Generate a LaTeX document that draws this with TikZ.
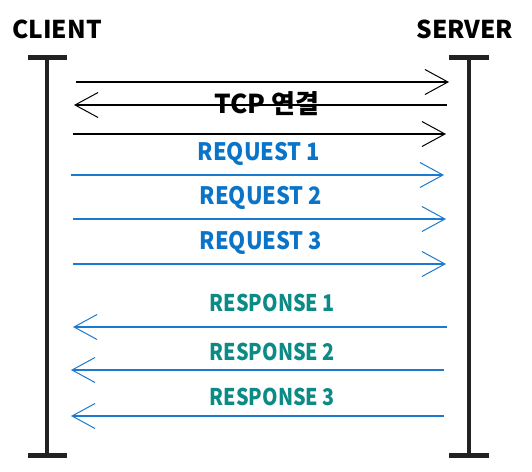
\documentclass[tikz,border=0pt]{standalone}
\usepackage{fontspec}
\newfontfamily\kheavy{Noto Sans CJK KR}[UprightFont=* Black]
\newfontfamily\kcond{Noto Sans CJK KR}[UprightFont=* Black, FakeStretch=0.86]
\newfontfamily\kreq{Noto Sans CJK KR}[UprightFont=* Black, FakeStretch=0.91]
\usetikzlibrary{arrows.meta}
\definecolor{reqblue}{HTML}{0A74C8}
\definecolor{lineblue}{HTML}{1A7AD0}
\definecolor{resteal}{HTML}{0B8A86}
\definecolor{lifeblack}{HTML}{222222}
\tikzset{
  reqlbl/.style={font=\kreq\fontsize{24}{24}\selectfont, inner sep=0pt, anchor=center, text=reqblue},
  reslbl/.style={font=\kcond\fontsize{23}{23}\selectfont, inner sep=0pt, anchor=center, text=resteal},
  tcplbl/.style={font=\kheavy\fontsize{26}{26}\selectfont, inner sep=0pt, anchor=center, text=black},
  head/.style={font=\kheavy\fontsize{24.5}{24.5}\selectfont, inner sep=0pt, anchor=center},
  life/.style={draw=lifeblack, line width=4.5pt},
  bar/.style={draw=lifeblack, line width=5pt},
  msg/.style={line width=1.1pt, -{Straight Barb[length=23pt,width=25pt,line width=1pt]}},
  blackmsg/.style={msg, draw=black},
  bluemsg/.style={msg, draw=lineblue},
}
\begin{document}
\begin{tikzpicture}[x=1pt,y=-1pt]
\useasboundingbox (0,0) rectangle (532,471);
% headings
\node[head] (client) at (57,29) {CLIENT};
\node[head] (server) at (465,29) {SERVER};
% lifelines
\coordinate (ct) at (47,57); \coordinate (cb) at (47,455);
\coordinate (st) at (469,57); \coordinate (sb) at (469,455);
\coordinate (ctl) at (28,57); \coordinate (ctr) at (67,57);
\coordinate (cbl) at (28,455); \coordinate (cbr) at (67,455);
\coordinate (stl) at (449,57); \coordinate (str) at (489,57);
\coordinate (sbl) at (449,455); \coordinate (sbr) at (489,455);
\draw[life] (ct) -- (cb);
\draw[life] (st) -- (sb);
\draw[bar] (ctl) -- (ctr);
\draw[bar] (cbl) -- (cbr);
\draw[bar] (stl) -- (str);
\draw[bar] (sbl) -- (sbr);
% TCP handshake
\coordinate (a1) at (76,82);  \coordinate (b1) at (449,82);
\coordinate (a2) at (74,105); \coordinate (b2) at (447,105);
\coordinate (a3) at (73,134); \coordinate (b3) at (446,134);
\draw[blackmsg] (a1) -- (b1);
\draw[blackmsg] (b2) -- (a2);
\draw[blackmsg] (a3) -- (b3);
\node[tcplbl] (tcp) at (267,104) {TCP 연결};
% requests
\coordinate (q1a) at (71,175); \coordinate (q1b) at (444,175);
\coordinate (q2a) at (73,219); \coordinate (q2b) at (446,219);
\coordinate (q3a) at (73,264); \coordinate (q3b) at (446,264);
\draw[bluemsg] (q1a) -- (q1b);
\draw[bluemsg] (q2a) -- (q2b);
\draw[bluemsg] (q3a) -- (q3b);
\node[reqlbl] (req1) at (259,154) {REQUEST 1};
\node[reqlbl] (req2) at (261,198) {REQUEST 2};
\node[reqlbl] (req3) at (261,243) {REQUEST 3};
% responses
\coordinate (r1a) at (73,327); \coordinate (r1b) at (447,327);
\coordinate (r2a) at (71,370); \coordinate (r2b) at (444,370);
\coordinate (r3a) at (71,416); \coordinate (r3b) at (444,416);
\draw[bluemsg] (r1b) -- (r1a);
\draw[bluemsg] (r2b) -- (r2a);
\draw[bluemsg] (r3b) -- (r3a);
\node[reslbl] (res1) at (272,303) {RESPONSE\,1};
\node[reslbl] (res2) at (272,352) {RESPONSE\,2};
\node[reslbl] (res3) at (272,397) {RESPONSE\,3};
\end{tikzpicture}
\end{document}
